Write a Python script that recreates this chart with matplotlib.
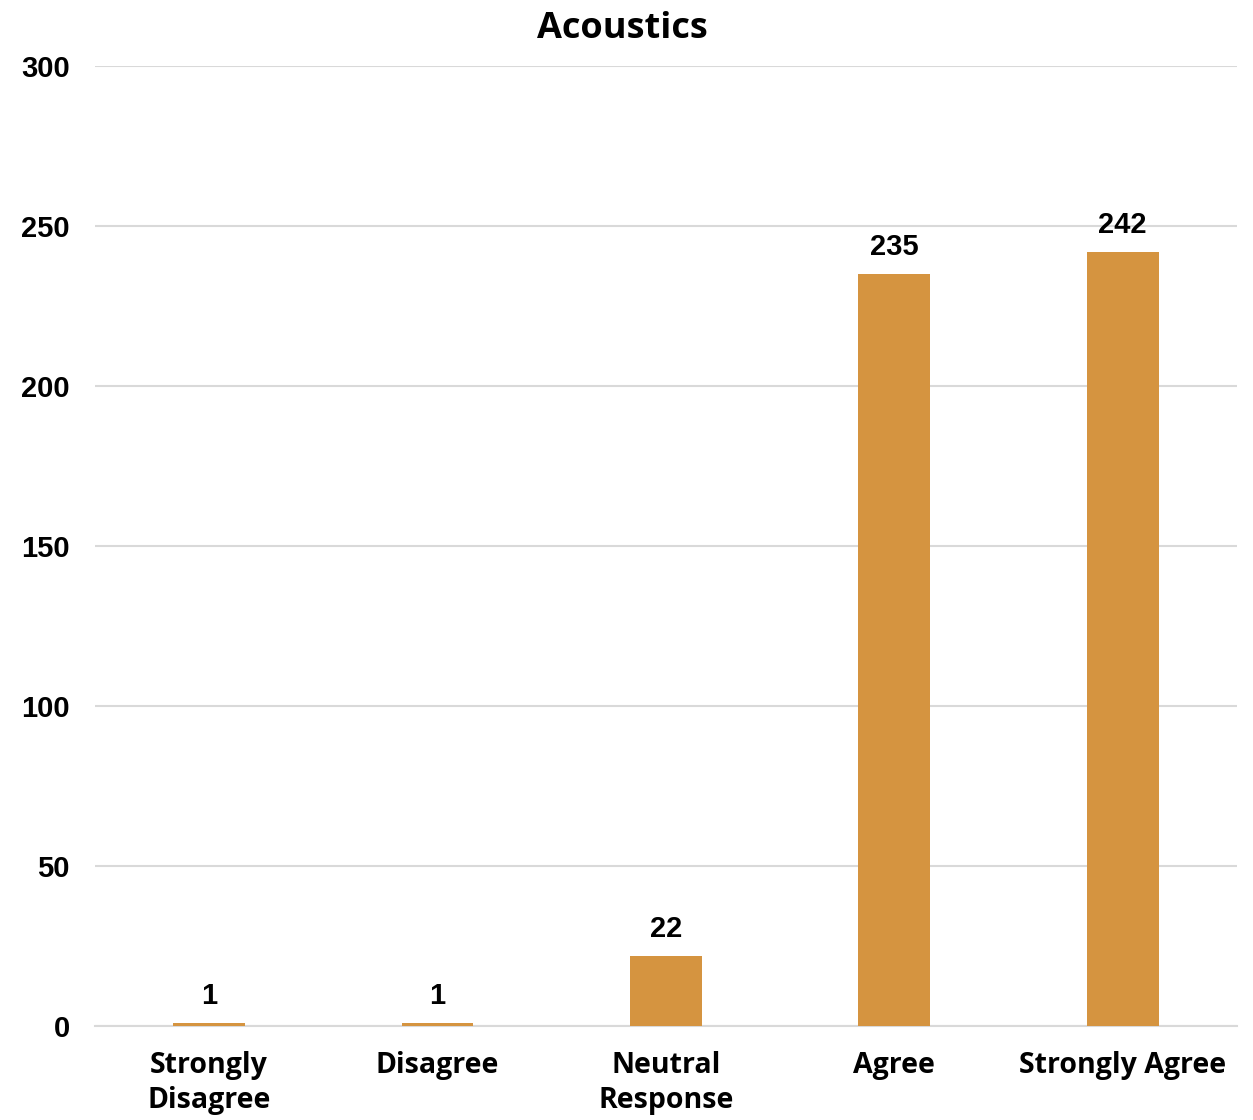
import matplotlib.pyplot as plt
import numpy as np

categories = ["Strongly\nDisagree", "Disagree", "Neutral\nResponse", "Agree", "Strongly Agree"]
counts = [1, 1, 22, 235, 242]
yticks = [0, 50, 100, 150, 200, 250, 300]

bar_color = "#D59440"

fig = plt.figure(figsize=(12.53, 11.2), dpi=100)
ax = fig.add_axes([0.0758, 0.0839, 0.9112, 0.8571])

x = np.arange(len(categories))
bars = ax.bar(x, counts, width=0.315, color=bar_color, zorder=3)

for b, v in zip(bars, counts):
    ax.text(b.get_x() + b.get_width() / 2, v + 4, str(v), ha="center", va="bottom",
            fontsize=21, fontweight="bold", family="Liberation Sans")

ax.set_xlim(-0.5, len(categories) - 0.5)
ax.set_ylim(0, 300)
ax.set_yticks(yticks)
ax.set_yticklabels([str(t) for t in yticks], fontsize=21, fontweight="bold", family="Liberation Sans")
ax.set_xticks(x)
ax.set_xticklabels(categories, fontsize=20.5, fontweight="bold", family="Open Sans", linespacing=1.28)
ax.tick_params(axis="both", length=0)
ax.tick_params(axis="x", pad=18)
ax.tick_params(axis="y", pad=18)

ax.grid(axis="y", color="#D9D9D9", linewidth=1.5, zorder=0)
for side in ["top", "right", "left"]:
    ax.spines[side].set_visible(False)
ax.spines["bottom"].set_color("#D9D9D9")
ax.spines["bottom"].set_linewidth(1.5)

fig.suptitle("Acoustics", x=0.497, y=0.99, va="top", fontsize=26, fontweight="bold", family="Open Sans")

fig.savefig("out.png", dpi=100)
